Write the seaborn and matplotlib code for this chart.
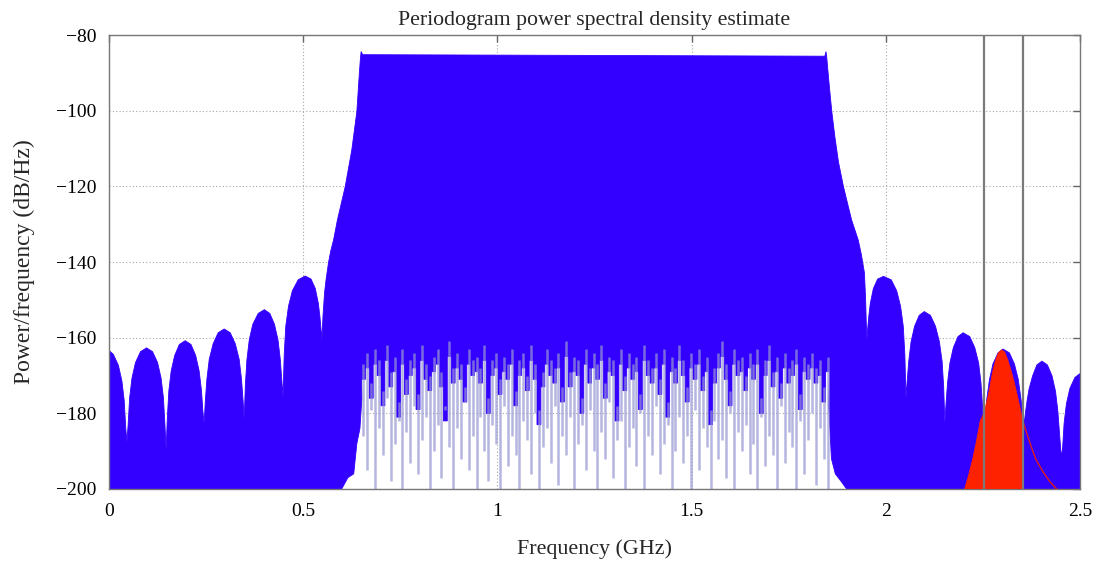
import numpy as np
import matplotlib
matplotlib.use("Agg")
import matplotlib.pyplot as plt
import seaborn as sns

# ---------------- data ----------------
# upper envelope of the blue periodogram: left sidelobes (GHz, dB/Hz)
left_lobes_f = [0.000, 0.011, 0.024, 0.033, 0.039, 0.043,
                0.046, 0.049, 0.053, 0.059, 0.068, 0.081, 0.0965, 0.112, 0.125, 0.134, 0.140, 0.144,
                0.147, 0.150, 0.154, 0.160, 0.169, 0.181, 0.196, 0.211, 0.223, 0.232, 0.238, 0.242,
                0.245, 0.248, 0.252, 0.258, 0.268, 0.281, 0.2965, 0.312, 0.325, 0.335, 0.341, 0.345,
                0.348, 0.351, 0.355, 0.361, 0.370, 0.384, 0.400, 0.414, 0.426, 0.435, 0.441, 0.445,
                0.448, 0.451, 0.455, 0.462, 0.472, 0.487, 0.505, 0.520, 0.531, 0.539, 0.543, 0.546]
left_lobes_db = [-163.4, -164.4, -167.3, -171.4, -176.6, -183.9,
                 -187.5, -183.2, -175.9, -170.7, -166.6, -163.7, -162.7, -163.7, -166.6, -170.7, -175.9, -183.2,
                 -189.6, -181.3, -174.0, -168.8, -164.7, -161.8, -160.8, -161.8, -164.7, -168.8, -174.0, -180.0,
                 -182.5, -176.5, -170.9, -165.7, -161.6, -158.7, -157.7, -158.7, -161.6, -165.7, -170.9, -176.5,
                 -181.5, -172.5, -165.8, -160.6, -156.5, -153.6, -152.6, -153.6, -156.5, -160.6, -165.8, -171.5,
                 -175.6, -164.5, -157.0, -151.7, -147.6, -144.7, -143.7, -144.5, -147.0, -151.0, -154.5, -158.0]
# main lobe (skirts and flat top)
main_lobe_f = [0.548, 0.551, 0.555, 0.559, 0.565, 0.571, 0.578, 0.588, 0.608, 0.625, 0.638, 0.6445,
               0.647, 0.649, 0.653, 1.250, 1.843, 1.846,
               1.848, 1.851, 1.855, 1.861, 1.869, 1.878, 1.891, 1.905, 1.912, 1.929, 1.937, 1.945, 1.948]
main_lobe_db = [-160.6, -154.0, -148.0, -144.5, -140.2, -137.0, -134.2, -128.9, -120.1, -110.4, -100.3, -90.1,
                -86.5, -84.4, -85.2, -85.4, -85.6, -84.4,
                -86.0, -89.5, -94.0, -100.3, -107.0, -113.5, -120.1, -126.0, -128.9, -134.2, -138.0, -142.9, -150.0]
# right sidelobes
right_lobes_f = [1.951, 1.953, 1.956, 1.960, 1.968, 1.979, 1.994, 2.014, 2.028, 2.038, 2.045, 2.049,
                 2.052, 2.055, 2.059, 2.065, 2.074, 2.086, 2.099, 2.115, 2.128, 2.138, 2.145, 2.149,
                 2.152, 2.155, 2.159, 2.165, 2.174, 2.186, 2.199, 2.216, 2.229, 2.239, 2.245, 2.249,
                 2.253, 2.256, 2.260, 2.267, 2.276, 2.289, 2.302, 2.318, 2.331, 2.341, 2.348, 2.353,
                 2.357, 2.360, 2.364, 2.369, 2.378, 2.389, 2.402, 2.416, 2.428, 2.437, 2.443, 2.447,
                 2.452, 2.455, 2.459, 2.465, 2.474, 2.487, 2.500]
right_lobes_db = [-160.6, -158.0, -154.5, -151.0, -147.0, -144.5, -143.8, -144.7, -147.6, -151.7, -157.0, -164.5,
                  -175.9, -171.5, -166.3, -161.1, -157.0, -154.1, -153.1, -154.1, -157.0, -161.1, -166.3, -173.0,
                  -182.5, -177.5, -171.9, -166.7, -162.6, -159.7, -158.7, -159.7, -162.6, -166.7, -171.9, -178.0,
                  -187.0, -183.5, -176.2, -171.0, -166.9, -164.0, -163.0, -164.0, -166.9, -171.0, -176.2, -181.0,
                  -182.0, -179.5, -176.5, -173.5, -170.1, -167.2, -166.2, -167.2, -170.1, -174.2, -179.4, -185.0,
                  -191.5, -189.5, -182.7, -177.5, -173.4, -170.5, -169.5]

# lower edge of the solid blue band inside the pass band
left_edge_f = [0.599, 0.615, 0.630, 0.638, 0.646, 0.651]
left_edge_db = [-200.0, -197.0, -196.0, -188.0, -184.0, -176.0]
right_edge_f = [1.853, 1.856, 1.860, 1.870, 1.885, 1.899]
right_edge_db = [-178.0, -184.0, -192.0, -196.0, -198.0, -200.0]
floor_db = [-171, -168, -176, -167, -170, -178, -166, -173, -169, -181,
            -167, -175, -170, -168, -179, -166, -171, -174, -169, -167,
            -173, -182, -165, -172, -168, -171, -177, -167, -170, -169,
            -172, -166, -180, -170, -168, -175, -169, -171, -167, -178,
            -170, -168, -174, -166, -171, -183, -173, -167, -170, -172,
            -168, -177, -165, -173, -169, -170, -180, -167, -172, -168,
            -171, -166, -176, -169, -170, -182, -167, -174, -168, -171,
            -169, -179, -166, -170, -172, -168, -175, -167, -181, -169,
            -172, -166, -170, -177, -168, -171, -167, -174, -169, -183,
            -172, -168, -165, -171, -178, -167, -170, -169, -174, -168,
            -171, -167, -180, -170, -166, -173, -169, -176, -168, -172,
            -170, -167, -179, -169, -171, -168, -172, -170, -177, -169]
# deepest dips of the periodogram (light spikes)
dip_db = [-186, -195, -179, -200, -184, -191, -176, -198, -188, -182,
          -200, -185, -193, -178, -196, -187, -181, -200, -190, -183,
          -197, -179, -189, -200, -184, -192, -177, -195, -186, -200,
          -181, -190, -198, -183, -188, -200, -178, -194, -186, -191,
          -200, -182, -187, -196, -180, -200, -189, -184, -193, -178,
          -199, -186, -191, -181, -200, -188, -183, -195, -179, -190,
          -200, -185, -192, -177, -197, -187, -182, -200, -189, -184,
          -194, -180, -200, -186, -191, -178, -196, -188, -183, -200,
          -190, -181, -193, -186, -200, -179, -195, -184, -189, -200,
          -182, -192, -187, -197, -180, -200, -185, -190, -183, -196,
          -188, -200, -181, -194, -186, -191, -200, -178, -193, -185,
          -189, -200, -182, -196, -187, -180, -199, -184, -192, -200]
inner_f = np.linspace(0.655, 1.850, len(floor_db))

# red narrow-band signal
red_f = [2.203, 2.214, 2.225, 2.235, 2.243, 2.250, 2.256, 2.262, 2.268, 2.275, 2.283, 2.290,
         2.298, 2.306, 2.314, 2.322, 2.330, 2.338, 2.345, 2.352, 2.353]
red_db = [-200.0, -196.0, -191.5, -186.5, -182.0, -180.5, -178.5, -176.0, -173.0, -169.0, -165.8, -164.0,
          -163.2, -163.8, -165.8, -168.5, -171.5, -175.0, -178.2, -181.7, -200.0]
red_tail_f = [2.352, 2.362, 2.375, 2.387, 2.405, 2.422, 2.440]
red_tail_db = [-181.7, -185.0, -189.0, -192.3, -195.5, -198.0, -200.0]

# markers (vertical lines)
marker_f = [2.253, 2.352]

x_ticks = [0, 0.5, 1, 1.5, 2, 2.5]
x_tick_labels = ["0", "0.5", "1", "1.5", "2", "2.5"]
y_ticks = [-200, -180, -160, -140, -120, -100, -80]

# ---------------- styling ----------------
sns.set_theme(style="white")
plt.rcParams["font.family"] = ["Liberation Serif", "DejaVu Serif"]
plt.rcParams["axes.unicode_minus"] = True

BLUE = "#3300ff"
RED = "#ff2200"

fig = plt.figure(figsize=(10.96, 5.62), dpi=100)
ax = fig.add_axes([0.0995, 0.1299, 0.8859, 0.8078])

# lower edge of the pass band drawn as columns (one per frequency bin)
half = (inner_f[1] - inner_f[0]) / 2
col_f, col_db = [], []
for f, d in zip(inner_f, floor_db):
    col_f += [f - half, f + half]
    col_db += [d, d]

# blue periodogram region as one polygon (upper envelope, then lower edge back)
env_f = left_lobes_f + main_lobe_f + right_lobes_f
env_db = left_lobes_db + main_lobe_db + right_lobes_db
poly_f = (env_f + [2.5, right_edge_f[-1]] + right_edge_f[::-1] + col_f[::-1]
          + left_edge_f[::-1] + [left_edge_f[0], 0.0])
poly_db = (env_db + [-200.0, right_edge_db[-1]] + right_edge_db[::-1] + col_db[::-1]
           + left_edge_db[::-1] + [-200.0, -200.0])
ax.fill(poly_f, poly_db, color=BLUE, lw=0.6, ec=BLUE, zorder=2)

# light dips
ax.vlines(inner_f, dip_db, np.array(floor_db) + 4, color="#9696d2", lw=1.8, alpha=0.7, zorder=2.5)

# red signal
ax.fill(red_f, red_db, color=RED, lw=0.5, ec=RED, zorder=3)
sns.lineplot(x=red_tail_f, y=red_tail_db, color="#e01a1a", lw=1.0, ax=ax, zorder=3)

# marker lines
for f in marker_f:
    ax.axvline(f, color="#7a7a7a", lw=1.6, zorder=4)

ax.set_xlim(0, 2.5)
ax.set_ylim(-200, -80)
ax.set_xticks(x_ticks)
ax.set_xticklabels(x_tick_labels)
ax.set_yticks(y_ticks)
ax.grid(True, color="#a8a8a8", lw=0.8, linestyle=(0, (1, 2)))
ax.set_axisbelow(True)
ax.tick_params(direction="in", length=5, width=1, colors="#666666", labelcolor="black",
               labelsize=14, top=True, right=True)
ax.tick_params(axis="x", pad=10)
ax.tick_params(axis="y", pad=9)
for s in ax.spines.values():
    s.set_color("#777777")
    s.set_linewidth(1.0)

ax.set_title("Periodogram power spectral density estimate", fontsize=15.7, pad=7)
ax.set_xlabel("Frequency (GHz)", fontsize=15.8, labelpad=14)
ax.set_ylabel("Power/frequency (dB/Hz)", fontsize=17, labelpad=15)

fig.savefig("out.png", dpi=100)
